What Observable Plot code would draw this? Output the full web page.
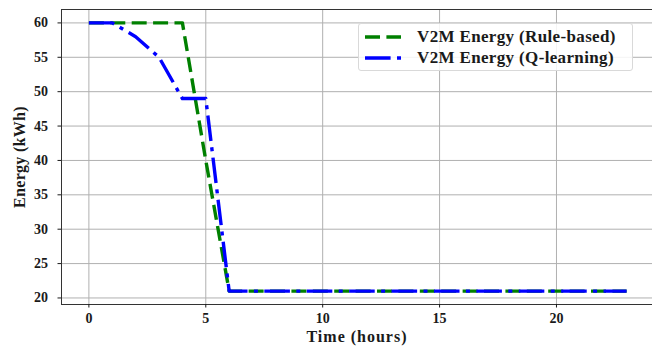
<!DOCTYPE html>
<html>
<head>
<meta charset="utf-8">
<script src="https://cdn.jsdelivr.net/npm/d3@7"></script>
<script src="https://cdn.jsdelivr.net/npm/@observablehq/plot@0.6"></script>
<style>
  html, body { margin: 0; padding: 0; background: #fff; }
  #wrap { position: relative; width: 652px; height: 347px; overflow: hidden; }
  #chart svg, #chart svg text { font-family: 'Liberation Serif', 'Times New Roman', serif !important; font-weight: bold; }
  #chart svg g[aria-label$='tick label'] text { font-size: 14px !important; fill: #1a1a1a; }
  #chart svg g[aria-label='x-axis label'] text { font-size: 16px !important; letter-spacing: 1px; fill: #1a1a1a; }
  #chart svg g[aria-label='y-axis label'] text { font-size: 16px !important; letter-spacing: 0.3px; fill: #1a1a1a; }
  #legend {
    position: absolute; left: 358px; top: 23px; width: 275px; height: 48px;
    box-sizing: border-box; border: 1px solid #d9d9d9; border-radius: 3px;
    background: rgba(255,255,255,0.85);
    font-family: 'Liberation Serif', 'Times New Roman', serif; font-weight: bold;
    font-size: 17px; letter-spacing: 0.35px; color: #1a1a1a;
  }
  #legend .row { position: absolute; left: 6px; height: 21px; display: flex; align-items: center; white-space: nowrap; }
  #legend svg { margin-right: 16px; }
</style>
</head>
<body>
<div id="wrap">
  <div id="chart"></div>
  <div id="legend"></div>
</div>
<script>
// ---- data ----
const hours = [0,1,2,3,4,5,6,7,8,9,10,11,12,13,14,15,16,17,18,19,20,21,22,23];
const ruleBased = [60,60,60,60,60,40,21,21,21,21,21,21,21,21,21,21,21,21,21,21,21,21,21,21];
const qLearning = [60,60,58,55,49,49,21,21,21,21,21,21,21,21,21,21,21,21,21,21,21,21,21,21];
const seriesNames = ["V2M Energy (Rule-based)", "V2M Energy (Q-learning)"];
const seriesColors = ["green", "blue"];
const seriesDash = ["15,6.4", "25.6,6.4,4,6.4"];
const xTicks = [0,5,10,15,20];
const yTicks = [20,25,30,35,40,45,50,55,60];

const rows = [];
hours.forEach((h,i) => {
  rows.push({t: h, v: ruleBased[i], s: seriesNames[0]});
});
hours.forEach((h,i) => {
  rows.push({t: h, v: qLearning[i], s: seriesNames[1]});
});

const font = "Liberation Serif, Times New Roman, serif";

const plot = Plot.plot({
  width: 652,
  height: 347,
  marginLeft: 61,
  marginTop: 9,
  marginBottom: 43,
  marginRight: 0,
  style: {fontFamily: font, fontWeight: "bold", fontSize: "13px", color: "#1a1a1a", background: "white"},
  x: {domain: [-1.15, 24.15], range: [61.5, 653]},
  y: {domain: [19.05, 61.95], range: [304, 9]},
  marks: [
    Plot.ruleX(xTicks, {stroke: "#b0b0b0", strokeWidth: 1, strokeOpacity: 1}),
    Plot.ruleY(yTicks, {stroke: "#b0b0b0", strokeWidth: 1, strokeOpacity: 1}),
    Plot.frame({stroke: "#333", strokeWidth: 1}),
    Plot.axisX({ticks: xTicks, tickSize: 3.5, tickPadding: 5, fontSize: 14, fontWeight: "bold", fontFamily: font,
      label: "Time (hours)", labelAnchor: "center", labelArrow: "none", labelOffset: 37}),
    Plot.axisY({ticks: yTicks, tickSize: 3.5, tickPadding: 10, fontSize: 14, fontWeight: "bold", fontFamily: font,
      label: "Energy (kWh)", labelAnchor: "center", labelArrow: "none", labelOffset: 48}),
    Plot.line(rows.filter(d => d.s === seriesNames[0]), {x: "t", y: "v", stroke: seriesColors[0],
      strokeWidth: 3.4, strokeDasharray: seriesDash[0], strokeLinecap: "butt", strokeLinejoin: "round"}),
    Plot.line(rows.filter(d => d.s === seriesNames[1]), {x: "t", y: "v", stroke: seriesColors[1],
      strokeWidth: 3.4, strokeDasharray: seriesDash[1], strokeLinecap: "butt", strokeLinejoin: "round"})
  ]
});
document.getElementById("chart").appendChild(plot);

// legend
const legend = document.getElementById("legend");
seriesNames.forEach((name, i) => {
  const row = document.createElement("div");
  row.className = "row";
  row.style.top = (i === 0 ? 2 : 23) + "px";
  row.innerHTML = `<svg width="36" height="10"><line x1="0" y1="5" x2="36" y2="5" stroke="${seriesColors[i]}" stroke-width="3.4" stroke-dasharray="${seriesDash[i]}"/></svg><span>${name}</span>`;
  legend.appendChild(row);
});
</script>
</body>
</html>
